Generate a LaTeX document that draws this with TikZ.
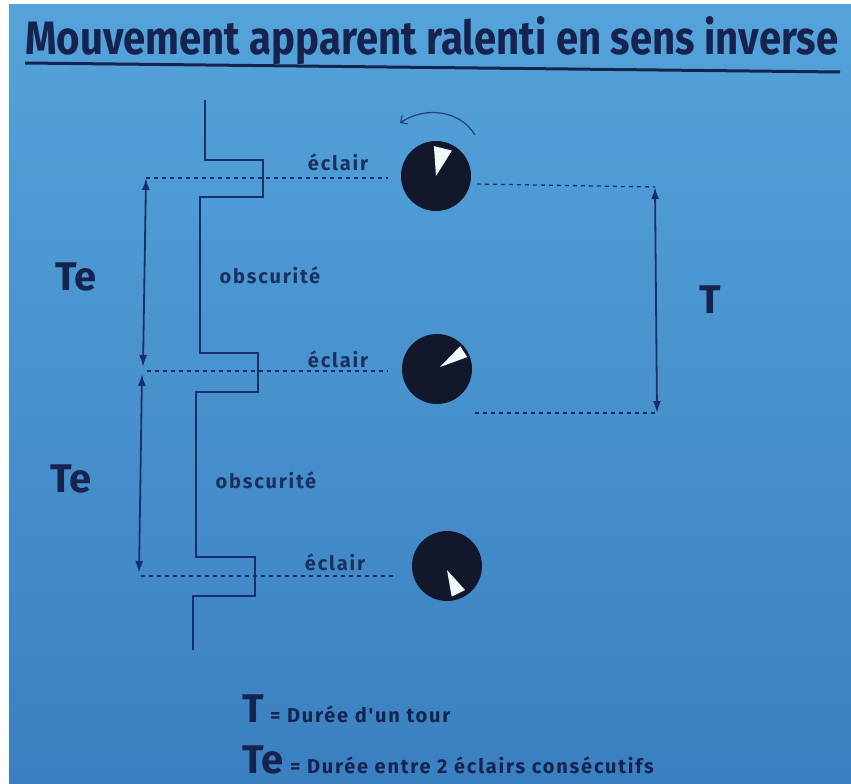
\documentclass[tikz,border=0pt]{standalone}
\usepackage{fontspec}
\setmainfont{Fira Sans}
\newfontfamily\spacedfont[LetterSpace=9]{Fira Sans}
\usepackage{graphicx}
\usetikzlibrary{arrows.meta,positioning,calc}
\definecolor{ink}{HTML}{16234F}
\definecolor{wire}{HTML}{1C2D6E}
\definecolor{skyTop}{HTML}{55A3DB}
\definecolor{skyMid}{HTML}{62AFE2}
\definecolor{skyBot}{HTML}{3A80C0}
\definecolor{discC}{HTML}{12172B}
\tikzset{>={Latex[length=12pt,width=8pt]},
  big/.style={font=\fontsize{40}{40}\selectfont\bfseries,text=ink,inner sep=0pt,anchor=base},
  lbl/.style={font=\fontsize{20}{20}\selectfont\spacedfont\bfseries,text=ink!90!skyTop,inner sep=0pt,anchor=base},
  legtxt/.style={font=\fontsize{20}{20}\selectfont\spacedfont\bfseries,text=ink,inner sep=0pt,anchor=base west},
  disc/.style={circle,fill=discC,minimum size=70pt,inner sep=0pt},
  wedge/.style={fill=white!92!skyTop},
  guide/.style={wire,line width=1.3pt,dash pattern=on 4pt off 4pt},
  span/.style={<->,wire,line width=1.8pt},
  signal/.style={wire,line width=2.4pt}}

\begin{document}
\begin{tikzpicture}[x=1pt,y=-1pt]
\useasboundingbox (0,0) rectangle (851,784);
\fill[white] (0,0) rectangle (851,784);
\shade[top color=skyTop,middle color=skyMid,bottom color=skyBot] (9,5) rectangle (851,784);
% title
\node[anchor=base west,inner sep=0pt,text=ink] (title) at (25,55)
  {\resizebox{813pt}{38pt}{\bfseries Mouvement apparent ralenti en sens inverse}};
\draw[ink,line width=3pt] (25,63) -- (840,72);
% signal
\draw[signal] (205,100) -- (205,160) -- (263,160) -- (263,197) -- (200,197)
  -- (200,353) -- (258,353) -- (258,392) -- (196,392) -- (196,557)
  -- (255,557) -- (255,596) -- (193,596) -- (193,650);
\node[lbl] (ecl1) at (338,170) {éclair};
\node[lbl] (ecl2) at (338,367) {éclair};
\node[lbl] (ecl3) at (335,570) {éclair};
\node[lbl] (obs1) at (270,283) {obscurité};
\node[lbl] (obs2) at (266,488) {obscurité};
% discs
\node[disc] (d1) at (436,176) {};
\node[disc] (d2) at (437,369) {};
\node[disc] (d3) at (447,566) {};
\fill[wedge] (d1.center) -- +(-94:30) -- +(-58:30) -- cycle;
\fill[wedge] ([shift={(3,-2)}]d2.center) -- +(-46:29) -- +(-20:29) -- cycle;
\fill[wedge] ([shift={(0,4)}]d3.center) -- +(48:27) -- +(80:27) -- cycle;
\coordinate (rotA) at (475,135);
\coordinate (rotB) at (400,123);
\draw[wire!85!skyTop,line width=1.2pt,-{Straight Barb[length=5pt,width=10pt]}]
  (rotA) .. controls (460,110) and (425,106) .. (rotB);
% guides
\coordinate (te1top) at (146,178);
\coordinate (te1bot) at (143,367);
\coordinate (te2top) at (142,374);
\coordinate (te2bot) at (139,573);
\coordinate (ttop) at (655,187);
\coordinate (tbot) at (657,413);
\coordinate (g1) at (388,178);
\coordinate (g2a) at (147,371);
\coordinate (g2) at (388,371);
\coordinate (g3a) at (141,576);
\coordinate (g3) at (393,576);
\coordinate (h1) at (477,184);
\coordinate (h2) at (475,413);
\draw[guide] (te1top) -- (g1);
\draw[guide] (g2a) -- (g2);
\draw[guide] (g3a) -- (g3);
\draw[guide] (h1) -- (ttop);
\draw[guide] (h2) -- (tbot);
\draw[span] (te1top) -- (te1bot);
\draw[span] (te2top) -- (te2bot);
\draw[span] (ttop) -- (tbot);
\node[big] (te1) at (76,290) {Te};
\node[big] (te2) at (71,492) {Te};
\node[big] (tt) at (710,313) {T};
% legend
\node[big,anchor=base west] (legT) at (242,722) {T};
\node[legtxt] (legTtxt) at ([xshift=6pt]legT.base east) {= Durée d'un tour};
\node[big,anchor=base west] (legTe) at (242,773) {Te};
\node[legtxt] (legTetxt) at ([xshift=6pt]legTe.base east) {= Durée entre 2 éclairs consécutifs};
\end{tikzpicture}
\end{document}
